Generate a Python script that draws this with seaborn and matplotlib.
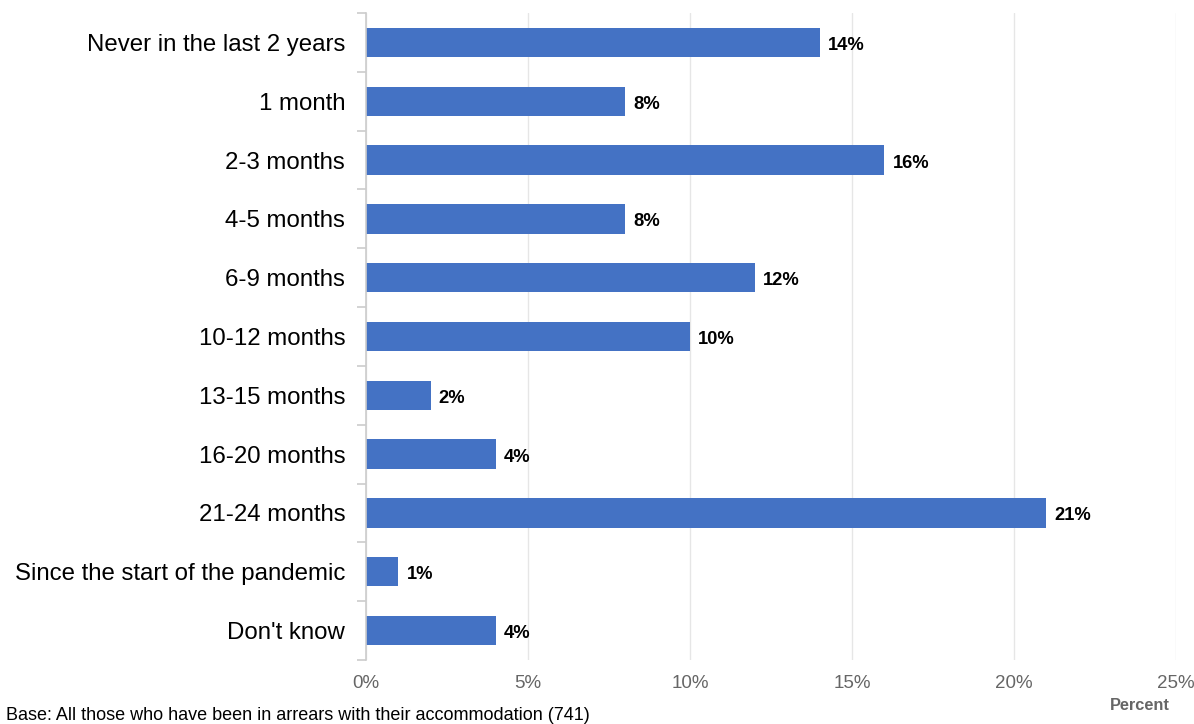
import numpy as np
import pandas as pd
import seaborn as sns
import matplotlib.pyplot as plt
from matplotlib.ticker import FixedLocator, PercentFormatter

categories = ["Never in the last 2 years", "1 month", "2-3 months", "4-5 months",
              "6-9 months", "10-12 months", "13-15 months", "16-20 months",
              "21-24 months", "Since the start of the pandemic", "Don't know"]
values = [14, 8, 16, 8, 12, 10, 2, 4, 21, 1, 4]

df = pd.DataFrame({"category": categories, "percent": values})

sns.set_theme(style="white")
plt.rcParams['font.family'] = ['Liberation Sans', 'DejaVu Sans']

fig = plt.figure(figsize=(11.94, 7.24), dpi=100)
ax = fig.add_axes([0.3065, 0.0884, 0.6785, 0.8936])

sns.barplot(data=df, x="percent", y="category", color="#4472C4", width=0.5,
            saturation=1, linewidth=0, ax=ax)

ax.set_xlim(0, 25)
ax.set_ylim(len(categories) - 0.5, -0.5)
ax.xaxis.set_major_locator(FixedLocator([0, 5, 10, 15, 20, 25]))
ax.xaxis.set_major_formatter(PercentFormatter(decimals=0))
ax.grid(axis="x", color="#e6e6e6", linewidth=1)
ax.set_axisbelow(True)

for s in ["top", "right", "bottom"]:
    ax.spines[s].set_visible(False)
ax.spines["left"].set_color("#cccccc")
ax.spines["left"].set_linewidth(1.2)

# category labels, boundary ticks as minor ticks
ax.yaxis.set_minor_locator(FixedLocator(np.arange(-0.5, len(categories), 1)))
ax.tick_params(axis="y", which="major", length=0, labelsize=17.3, pad=15, labelcolor="#000000")
ax.tick_params(axis="y", which="minor", length=6.5, width=1.2, color="#cccccc", left=True)
ax.tick_params(axis="x", which="major", length=0, labelsize=13.5, labelcolor="#666666", pad=11)

for i, v in enumerate(values):
    ax.text(v + 0.25, i + 0.05, f"{v}%", va="center", ha="left", fontsize=13.2,
            fontweight="bold", color="#000000")

ax.set_xlabel("")
ax.set_ylabel("")
fig.text(0.98, 0.015, "Percent", ha="right", va="bottom", fontsize=11.8,
         fontweight="bold", color="#666666")
fig.text(0.005, 0.0, "Base: All those who have been in arrears with their accommodation (741)",
         ha="left", va="bottom", fontsize=13, color="#000000")

fig.savefig("out.png", dpi=100)
